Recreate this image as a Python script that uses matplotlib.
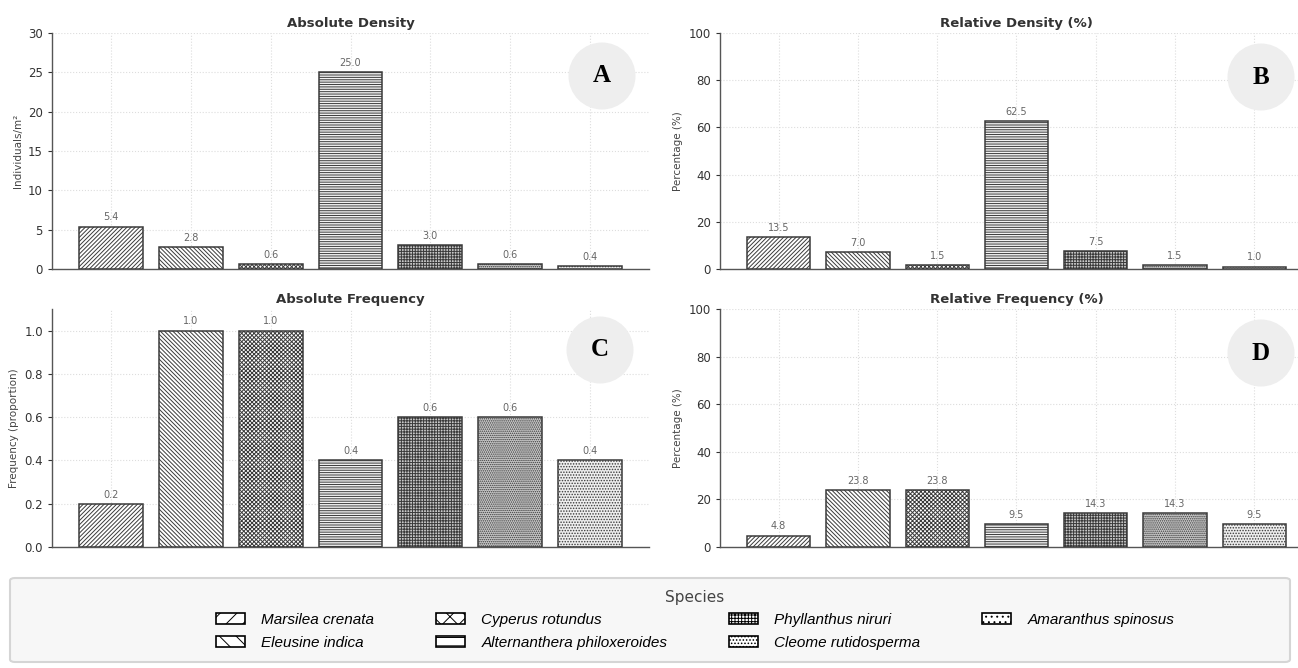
import numpy as np
import matplotlib
matplotlib.use('Agg')
import matplotlib.pyplot as plt
from matplotlib.patches import Patch, Ellipse, FancyBboxPatch

# Data
species = ['Marsilea crenata', 'Eleusine indica', 'Cyperus rotundus',
           'Alternanthera philoxeroides', 'Phyllanthus niruri',
           'Cleome rutidosperma', 'Amaranthus spinosus']
abs_density = [5.4, 2.8, 0.6, 25.0, 3.0, 0.6, 0.4]
rel_density = [13.5, 7.0, 1.5, 62.5, 7.5, 1.5, 1.0]
abs_freq = [0.2, 1.0, 1.0, 0.4, 0.6, 0.6, 0.4]
rel_freq = [4.8, 23.8, 23.8, 9.5, 14.3, 14.3, 9.5]

# styles
bar_hatches = ['/' * 8, '\\' * 8, 'x' * 8, '-' * 7, '+' * 6, '.' * 8, '.' * 6]
bar_faces = ['white', 'white', 'white', '#f2f2f2', '#c8c8c8', '#c8c8c8', '#eeeeee']
leg_hatches = ['//', '\\\\', 'xx', '--', '+++++', '.....', '...']

plt.rcParams['hatch.linewidth'] = 0.7

W, H = 1298, 668
fig = plt.figure(figsize=(W / 100, H / 100), dpi=100)

panels = [
    (abs_density, 'Absolute Density', 'Individuals/m²', (0, 30), 'A',
     [52, 269, 597, 236], (602, 76)),
    (rel_density, 'Relative Density (%)', 'Percentage (%)', (0, 100), 'B',
     [720, 269, 593, 236], (1261, 77)),
    (abs_freq, 'Absolute Frequency', 'Frequency (proportion)', (0, 1.1), 'C',
     [52, 547, 597, 238], (600, 350)),
    (rel_freq, 'Relative Frequency (%)', 'Percentage (%)', (0, 100), 'D',
     [720, 547, 593, 238], (1261, 353)),
]

x = np.arange(len(species))
for vals, title, ylab, ylim, letter, (px, pb, pw, ph), (cx, cy) in panels:
    ax = fig.add_axes([px / W, 1 - pb / H, pw / W, ph / H])
    bars = ax.bar(x, vals, width=0.8, color=bar_faces, edgecolor='#3a3a3a',
                  linewidth=1.1, zorder=3)
    for b, h in zip(bars, bar_hatches):
        b.set_hatch(h)
    for xi, v in zip(x, vals):
        ax.annotate(f'{v:.1f}', (xi, v), xytext=(0, 3), textcoords='offset points',
                    ha='center', va='bottom', fontsize=7, color='#666666')
    ax.set_ylim(*ylim)
    ax.set_title(title, fontsize=9.5, fontweight='bold', color='#333333', pad=4)
    ax.set_ylabel(ylab, fontsize=7.5, color='#444444', labelpad=4)
    ax.set_xticks(x)
    ax.set_xticklabels([])
    ax.tick_params(axis='x', length=0)
    ax.tick_params(axis='y', labelsize=8.5, colors='#333333', length=3, width=0.8)
    ax.grid(True, color='#dddddd', linestyle=':', linewidth=0.8, zorder=0)
    for s in ['top', 'right']:
        ax.spines[s].set_visible(False)
    for s in ['left', 'bottom']:
        ax.spines[s].set_color('#555555')
        ax.spines[s].set_linewidth(1.0)

    # letter badge
    fig.add_artist(Ellipse((cx / W, 1 - cy / H), 67 / W, 67 / H,
                           transform=fig.transFigure, facecolor='#eeeeee',
                           edgecolor='none', zorder=5))
    fig.text(cx / W, 1 - cy / H, letter, ha='center', va='center',
             fontsize=18, fontweight='bold', family='Liberation Serif', zorder=6)

# legend box
fig.add_artist(FancyBboxPatch((10 / W, 1 - 662 / H), 1280 / W, 84 / H,
                              boxstyle='round,pad=0,rounding_size=0.004',
                              transform=fig.transFigure, facecolor='#f7f7f7',
                              edgecolor='#d5d5d5', linewidth=1.5, zorder=0))

handles = [Patch(facecolor='white', edgecolor='black', linewidth=1.2, hatch=h, label=s)
           for h, s in zip(leg_hatches, species)]
leg = fig.legend(handles=handles, loc='upper center', bbox_to_anchor=(695 / W, 1 - 576 / H),
                 ncol=4, frameon=False, title='Species', handlelength=1.9,
                 handleheight=0.7, handletextpad=1.1, columnspacing=4.0,
                 labelspacing=0.55,
                 prop={'family': 'Liberation Sans', 'style': 'italic', 'size': 11})
leg.get_title().set_fontsize(11)
leg.get_title().set_color('#444444')

fig.savefig('out.png', dpi=100)
